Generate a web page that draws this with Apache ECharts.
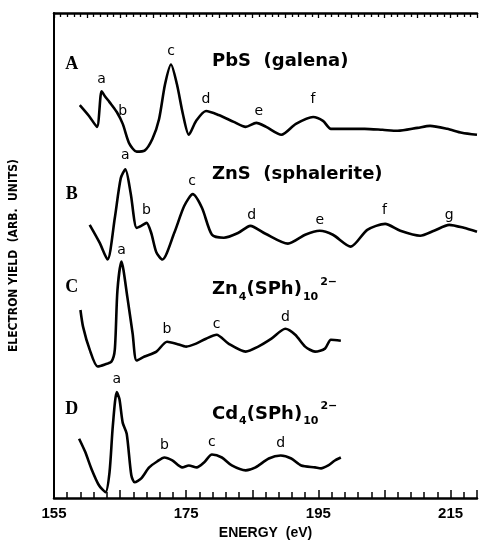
<!DOCTYPE html>
<html>
<head>
<meta charset="utf-8">
<script src="https://cdn.jsdelivr.net/npm/echarts@6/dist/echarts.min.js"></script>
<style>
  html, body { margin: 0; padding: 0; background: #fff; }
  #chart { width: 480px; height: 545px; }
</style>
</head>
<body>
<div id="chart"></div>
<script>
// energy (eV) and yield (arb. units, stacked as in the figure)
var pbsEnergy = [158.9, 160.3, 161.5, 162.2, 162.7, 163.4, 164.5, 165.4, 166.4, 167.5, 168.7, 169.9, 170.9, 171.8, 172.7, 173.6, 174.5, 175.4, 176.5, 178.0, 179.9, 182.2, 184.0, 185.6, 187.1, 189.4, 191.6, 194.2, 195.7, 196.9, 199.4, 202.0, 204.7, 207.0, 210.0, 211.9, 214.5, 216.7, 219.0]
var pbsYield  = [397, 386, 375, 411, 406, 400, 390, 378, 358, 350, 351, 363, 383, 418, 438, 418, 388, 367, 381, 391, 387, 380, 375, 379, 375, 367, 378, 385, 381, 373, 373, 373, 372, 371, 374, 376, 373, 369, 367]

var znsEnergy = [160.4, 161.9, 163.1, 164.2, 165.1, 165.8, 166.6, 167.5, 168.2, 169.0, 169.7, 170.5, 171.4, 173.2, 174.7, 176.0, 177.4, 178.9, 180.7, 182.9, 184.7, 187.0, 190.4, 193.0, 195.2, 197.2, 199.9, 202.4, 205.1, 207.4, 210.4, 212.5, 214.8, 217.0, 219.0]
var znsYield  = [276, 258, 241, 283, 323, 332, 308, 273, 275, 278, 268, 248, 241, 268, 295, 307, 293, 266, 263, 268, 275, 267, 257, 266, 270, 266, 254, 271, 277, 270, 265, 270, 276, 273, 269]

var znClEnergy = [159.0, 159.4, 160.4, 161.6, 162.7, 163.7, 164.2, 164.6, 165.2, 166.1, 166.9, 167.5, 168.7, 170.5, 172.1, 173.5, 175.0, 176.5, 178.0, 179.6, 181.4, 184.0, 185.9, 187.9, 190.0, 191.5, 193.0, 194.5, 196.0, 196.9, 198.4]
var znClYield  = [190, 173, 150, 133, 135, 138, 150, 210, 239, 203, 166, 139, 143, 148, 158, 156, 153, 156, 161, 165, 156, 148, 153, 161, 171, 165, 153, 148, 151, 160, 159]

var cdClEnergy = [158.8, 159.7, 160.7, 161.8, 162.8, 163.4, 163.9, 164.5, 164.9, 165.4, 166.0, 166.7, 167.2, 168.2, 169.4, 170.6, 171.7, 172.9, 174.4, 175.4, 176.6, 177.7, 178.9, 180.4, 181.9, 184.0, 185.5, 187.5, 189.3, 190.9, 192.4, 194.5, 195.4, 196.5, 197.5, 198.4]
var cdClYield  = [60, 47, 29, 13, 6, 26, 73, 107, 100, 76, 65, 23, 16, 20, 31, 37, 41, 38, 31, 33, 31, 36, 44, 41, 33, 28, 31, 40, 43, 40, 33, 31, 30, 33, 38, 41]

// peak letters [energy, yield, text]
var peakLabels = [
  [162.2, 423, 'a'], [165.4, 391, 'b'], [172.7, 451, 'c'], [178.0, 403, 'd'], [186.0, 391, 'e'], [194.2, 403, 'f'],
  [165.8, 346, 'a'], [169.0, 291, 'b'], [175.9, 320, 'c'], [184.9, 286, 'd'], [195.2, 281, 'e'], [205.0, 291, 'f'], [214.8, 286, 'g'],
  [165.2, 250, 'a'], [172.1, 170, 'b'], [179.6, 176, 'c'], [190.0, 183, 'd'],
  [164.5, 120, 'a'], [171.7, 53, 'b'], [178.9, 56, 'c'], [189.3, 55, 'd']
]

var panelLetters = [[157.7, 438, 'A'], [157.7, 307, 'B'], [157.7, 213, 'C'], [157.7, 90, 'D']]

var titles = [
  [178.9, 441, '{n|PbS  (galena)}'],
  [178.9, 327, '{n|ZnS  (sphalerite)}'],
  [178.9, 211, '{n|Zn}{s|4}{n|(SPh)}{s|10}{p|2−}'],
  [178.9, 85, '{n|Cd}{s|4}{n|(SPh)}{s|10}{p|2−}']
]

function pairs(xs, ys) {
  var out = []
  for (var i = 0; i < xs.length; i++) {
    out.push([xs[i], ys[i]])
  }
  return out
}

function curve(xs, ys) {
  return {
    type: 'line',
    data: pairs(xs, ys),
    smooth: 0.25,
    symbol: 'none',
    lineStyle: { color: '#000', width: 2.6 },
    silent: true
  }
}

var textFont = 'DejaVu Sans'

function textSeries(data, label) {
  label.show = true
  label.position = 'inside'
  label.opacity = 1
  label.formatter = function (p) { return p.data[2] }
  return {
    type: 'scatter',
    symbolSize: 0,
    silent: true,
    itemStyle: { color: '#000', opacity: 1 },
    data: data,
    label: label
  }
}

var option = {
  animation: false,
  backgroundColor: '#fff',
  grid: { left: 54, right: 0, top: 13, bottom: 42 },
  xAxis: [
    {
      type: 'value',
      min: 155,
      max: 219,
      interval: 10,
      axisLine: { lineStyle: { color: '#000', width: 2.5 } },
      axisTick: { inside: true, length: 8, lineStyle: { color: '#000', width: 1.5 } },
      minorTick: { show: true, splitNumber: 5, length: 6, lineStyle: { color: '#000', width: 1.5 } },
      splitLine: { show: false },
      axisLabel: {
        color: '#000',
        fontFamily: 'Liberation Sans',
        fontWeight: 'bold',
        fontSize: 15,
        margin: 8,
        formatter: function (v) {
          return (v - 155) % 20 === 0 ? String(v) : ''
        }
      },
      name: 'ENERGY  (eV)',
      nameLocation: 'middle',
      nameGap: 23,
      nameTextStyle: { color: '#000', fontFamily: 'Liberation Sans', fontWeight: 'bold', fontSize: 14 }
    },
    {
      type: 'value',
      position: 'top',
      min: 155,
      max: 219,
      interval: 5,
      axisLine: { lineStyle: { color: '#000', width: 2.5 } },
      axisTick: { inside: true, length: 5, lineStyle: { color: '#000', width: 1.3 } },
      minorTick: { show: true, splitNumber: 5, length: 4, lineStyle: { color: '#000', width: 1.3 } },
      splitLine: { show: false },
      axisLabel: { show: false }
    }
  ],
  yAxis: {
    type: 'value',
    min: 0,
    max: 490,
    axisLine: { show: true, lineStyle: { color: '#000', width: 2 } },
    axisTick: { show: false },
    splitLine: { show: false },
    axisLabel: { show: false },
    name: 'ELECTRON YIELD  (ARB.  UNITS)',
    nameLocation: 'middle',
    nameGap: 34,
    nameTextStyle: { color: '#000', fontFamily: "'DejaVu Sans Condensed', 'Liberation Sans', sans-serif", fontWeight: 'bold', fontSize: 12 }
  },
  series: [
    curve(pbsEnergy, pbsYield),
    curve(znsEnergy, znsYield),
    curve(znClEnergy, znClYield),
    curve(cdClEnergy, cdClYield),
    textSeries(peakLabels, { color: '#000', fontFamily: textFont, fontSize: 14 }),
    textSeries(panelLetters, { color: '#000', fontFamily: 'Liberation Serif', fontWeight: 'bold', fontSize: 18 }),
    textSeries(titles, {
      align: 'left',
      rich: {
        n: { color: '#000', fontFamily: textFont, fontWeight: 'bold', fontSize: 18, lineHeight: 26, verticalAlign: 'middle' },
        s: { color: '#000', fontFamily: textFont, fontWeight: 'bold', fontSize: 11, lineHeight: 26, verticalAlign: 'bottom', padding: [0, 0, 0, 1] },
        p: { color: '#000', fontFamily: textFont, fontWeight: 'bold', fontSize: 11, lineHeight: 26, verticalAlign: 'top', padding: [0, 0, 0, 2] }
      }
    })
  ]
}

var myChart = echarts.init(document.getElementById('chart'), null, { renderer: 'canvas' })
myChart.setOption(option)
</script>
</body>
</html>
